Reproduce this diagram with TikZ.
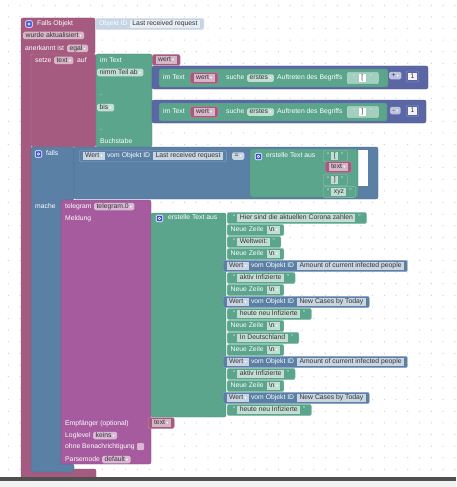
\documentclass[tikz,border=0pt]{standalone}
\usepackage{fontspec}
\setmainfont{Liberation Sans}
\newfontfamily\symf{DejaVu Sans}
\usetikzlibrary{positioning}
\definecolor{varpink}{HTML}{A55B80}
\definecolor{pfield}{HTML}{D6B6C6}
\definecolor{logblue}{HTML}{5B80A5}
\definecolor{bfield}{HTML}{C9D5E1}
\definecolor{txtgreen}{HTML}{5BA58C}
\definecolor{gfield}{HTML}{C2DED3}
\definecolor{paleg}{HTML}{A3CFBF}
\definecolor{mathblue}{HTML}{5B67A5}
\definecolor{ifield}{HTML}{BDC2DE}
\definecolor{tgpurple}{HTML}{A55B9E}
\definecolor{tfield}{HTML}{D8B8D5}
\definecolor{idblue}{HTML}{C5D5E5}
\definecolor{idfield}{HTML}{E6EDF4}
\definecolor{gearblue}{HTML}{3F50D8}
\definecolor{dotgray}{HTML}{CFCFCF}
\definecolor{barc}{HTML}{505050}
\definecolor{bgc}{HTML}{F2F2F2}

\newcommand\blfont{\fontsize{6.8}{8}\selectfont}
\newcommand\dropdn{\hspace{1.2pt}{\symf\fontsize{4.2}{5}\selectfont\textcolor{white}{▾}}}
\newcommand\fldbox[2]{{\setlength\fboxsep{0.8pt}\colorbox{#1}{\hspace{1.6pt}\textcolor{black!80}{\vrule height 4.6pt depth 1.3pt width 0pt\relax #2}\hspace{1.6pt}}}}
\newcommand\qo{\textcolor{white!75!txtgreen}{“}}
\newcommand\qc{\textcolor{white!75!txtgreen}{”}}
\newcommand\littext[1]{\qo\hspace{2pt}\fldbox{gfield}{#1}\hspace{3pt}\qc}
\newcommand\nltext{Neue Zeile\hspace{3pt}\fldbox{gfield}{\textbackslash n\dropdn}}
\newcommand\getval[1]{\fldbox{bfield}{Wert\dropdn}\hspace{2pt}vom Objekt ID\hspace{3pt}\fldbox{bfield}{#1}}

\tikzset{
  lbl/.style={anchor=west, inner sep=0pt, text=white, font=\blfont, text height=4.6pt, text depth=1.3pt},
  fld/.style={anchor=west, inner xsep=2.4pt, inner ysep=0.8pt, fill=#1, rounded corners=1.5pt, text=black!80, font=\blfont, text height=4.6pt, text depth=1.3pt},
  blk/.style={anchor=west, inner xsep=3.5pt, inner ysep=1.75pt, fill=#1, draw=white!30!#1, line width=0.4pt, rounded corners=2pt, text=white, font=\blfont},
  litblk/.style={blk=txtgreen, inner xsep=6pt},
  body/.style={fill=#1, draw=#1!85!black, line width=0.4pt, rounded corners=2pt},
  gear/.style={draw=white, fill=gearblue, line width=0.6pt, minimum size=6.5pt, inner sep=0pt, rounded corners=1pt,
    path picture={\draw[white, line width=0.5pt] (path picture bounding box.center) circle (1.2pt);}},
}

\begin{document}
\begin{tikzpicture}[x=1pt, y=-1pt]
    \useasboundingbox (0,0) rectangle (456,487);
    \fill[white] (0,0) rectangle (456,487);
    % Raster
    \foreach \i in {0,...,38}{\foreach \j in {0,...,40}{
      \fill[dotgray] (8.3+11.75*\i, 5.3+11.6*\j) circle (0.65);}}

    % Ereignis-Block
    \filldraw[body=varpink] (21,18) -- (95,18) -- (95,54) -- (31,54) -- (31,469)
      -- (96,469) -- (96,480) -- (21,480) -- cycle;
    \node[gear] (g0) at (29,24) {};
    \node[lbl] (hd) at (37,24) {Falls Objekt};
    \node[blk=idblue, inner xsep=4pt] (oid) at (95,24) {Objekt ID\hspace{2.5pt}\fldbox{idfield}{Last received request}};
    \node[fld=pfield] (ev) at (23,35.5) {wurde aktualisiert\dropdn};
    \node[lbl] (ack) at (25,48.5) {anerkannt ist};
    \node[fld=pfield] (ackv) at (67,48.5) {egal\dropdn};

    % setze text auf ...
    \filldraw[body=varpink, draw=white!25!varpink] (31,54) rectangle (96,147);
    \node[lbl] (st) at (35,60.5) {setze};
    \node[fld=pfield] (stv) at (54,60.5) {text\dropdn};
    \node[lbl] (au) at (77,60.5) {auf};
    \filldraw[body=txtgreen] (96,54) rectangle (152,147);
    \node[lbl] (it0) at (100,60.5) {im Text};
    \node[blk=varpink] (w0) at (152,60) {\fldbox{pfield}{wert\dropdn}};
    \node[fld=gfield] (ab) at (97,72.5) {nimm Teil ab\dropdn};
    \node[lbl] (d1) at (100,94.3) {.};
    \node[fld=gfield] (bis) at (97,107.5) {bis\dropdn};
    \node[lbl] (d2) at (100,129) {.};
    \node[lbl] (bu) at (100,141.5) {Buchstabe};

    % Position + 1
    \filldraw[body=mathblue] (152,66) rectangle (428,89);
    \filldraw[body=txtgreen] (159,69) rectangle (388,87);
    \node[lbl] (it1) at (163,78) {im Text};
    \node[blk=varpink] (w1) at (190,78) {\fldbox{pfield}{wert\dropdn}};
    \node[lbl] (su1) at (226,78) {suche};
    \node[fld=gfield] (er1) at (247,78) {erstes\dropdn};
    \node[lbl] (at1) at (277,78) {Auftreten des Begriffs};
    \node[blk=paleg, inner xsep=6pt] (lb1) at (347,78) {\qo\hspace{3.5pt}\fldbox{white}{[}\hspace{4.5pt}\qc};
    \node[fld=ifield] (op1) at (389,75.5) {+\dropdn};
    \node[blk=mathblue, inner xsep=2pt] (n1) at (406,76.5) {\fldbox{white!92!mathblue}{1}};

    % Position - 1
    \filldraw[body=mathblue] (152,100) rectangle (426,123);
    \filldraw[body=txtgreen] (159,103) rectangle (387,121);
    \node[lbl] (it2) at (163,112) {im Text};
    \node[blk=varpink] (w2) at (190,112) {\fldbox{pfield}{wert\dropdn}};
    \node[lbl] (su2) at (226,112) {suche};
    \node[fld=gfield] (er2) at (247,112) {erstes\dropdn};
    \node[lbl] (at2) at (277,112) {Auftreten des Begriffs};
    \node[blk=paleg, inner xsep=6pt] (lb2) at (347,112) {\qo\hspace{3.5pt}\fldbox{white}{]}\hspace{4.5pt}\qc};
    \node[fld=ifield] (op2) at (390,110.5) {-\dropdn};
    \node[blk=mathblue, inner xsep=2pt] (n2) at (406,111) {\fldbox{white!92!mathblue}{1}};

    % falls ... mache
    \filldraw[body=logblue] (31,147) -- (74,147) -- (74,200) -- (61,200) -- (61,464)
      -- (74,464) -- (74,472) -- (31,472) -- cycle;
    \filldraw[body=logblue] (74,147) rectangle (378,199);
    \fill[white] (358,150) rectangle (368,186);
    \node[gear] (g1) at (38.5,154) {};
    \node[lbl] (fa) at (46,154) {falls};
    \node[blk=logblue] (gv) at (79,156) {\getval{Last received request}};
    \node[fld=bfield] (eq) at (232,156) {=\dropdn};
    \filldraw[body=txtgreen] (250,149) rectangle (358,197);
    \node[gear] (g2) at (258.5,156.5) {};
    \node[lbl] (mk1) at (266,156) {erstelle Text aus};
    \node[litblk, inner xsep=4pt] (c1) at (323,156) {\littext{[}};
    \node[blk=varpink] (c2) at (325,167) {\fldbox{pfield}{text\dropdn}};
    \node[litblk, inner xsep=4pt] (c3) at (323,180) {\littext{]}};
    \node[litblk, inner xsep=4pt] (c4) at (323,192) {\littext{xyz}};
    \node[lbl] (ma) at (35,207) {mache};

    % telegram
    \filldraw[body=tgpurple] (61,200) rectangle (151,464);
    \node[lbl] (tg) at (65,206.5) {telegram};
    \node[fld=tfield] (tgv) at (94,206.5) {telegram.0\dropdn};
    \node[lbl] (me) at (65,219) {Meldung};
    \filldraw[body=txtgreen] (151,213) rectangle (226,417);
    \node[gear] (g3) at (159.5,218.5) {};
    \node[lbl] (mk2) at (168,218) {erstelle Text aus};
    \node[litblk] (m0) at (227,218) {\littext{Hier sind die aktuellen Corona zahlen}};
    \node[blk=txtgreen] (m1) at (227,230) {\nltext};
    \node[litblk] (m2) at (227,242) {\littext{Weltweit:}};
    \node[blk=txtgreen] (m3) at (227,254) {\nltext};
    \node[blk=logblue] (m4) at (223,266) {\getval{Amount of current infected people}};
    \node[litblk] (m5) at (227,278) {\littext{aktiv Infizierte}};
    \node[blk=txtgreen] (m6) at (227,290) {\nltext};
    \node[blk=logblue] (m7) at (223,302) {\getval{New Cases by Today}};
    \node[litblk] (m8) at (227,314) {\littext{heute neu Infizierte}};
    \node[blk=txtgreen] (m9) at (227,326) {\nltext};
    \node[litblk] (m10) at (227,338) {\littext{In Deutschland}};
    \node[blk=txtgreen] (m11) at (227,350) {\nltext};
    \node[blk=logblue] (m12) at (223,362) {\getval{Amount of current infected people}};
    \node[litblk] (m13) at (227,374) {\littext{aktiv Infizierte}};
    \node[blk=txtgreen] (m14) at (227,386) {\nltext};
    \node[blk=logblue] (m15) at (223,398) {\getval{New Cases by Today}};
    \node[litblk] (m16) at (227,410) {\littext{heute neu Infizierte}};
    \node[lbl] (em) at (65,424) {Empfänger (optional)};
    \node[blk=varpink] (ev2) at (148,423) {\fldbox{pfield}{text\dropdn}};
    \node[lbl] (ll) at (65,435.5) {Loglevel};
    \node[fld=tfield] (llv) at (93,435.5) {keins\dropdn};
    \node[lbl] (ob) at (65,447) {ohne Benachrichtigung};
    \node[fill=tfield, minimum size=7pt, inner sep=0pt, rounded corners=1pt] (cb) at (140.5,446.5) {};
    \node[lbl] (pm) at (65,459.5) {Parsemode};
    \node[fld=tfield] (pmv) at (102,459.5) {default\dropdn};

    % Fensterrand unten
    \fill[barc] (0,477) rectangle (456,480.5);
    \fill[bgc] (0,480.5) rectangle (456,487);
  \end{tikzpicture}
\end{document}
